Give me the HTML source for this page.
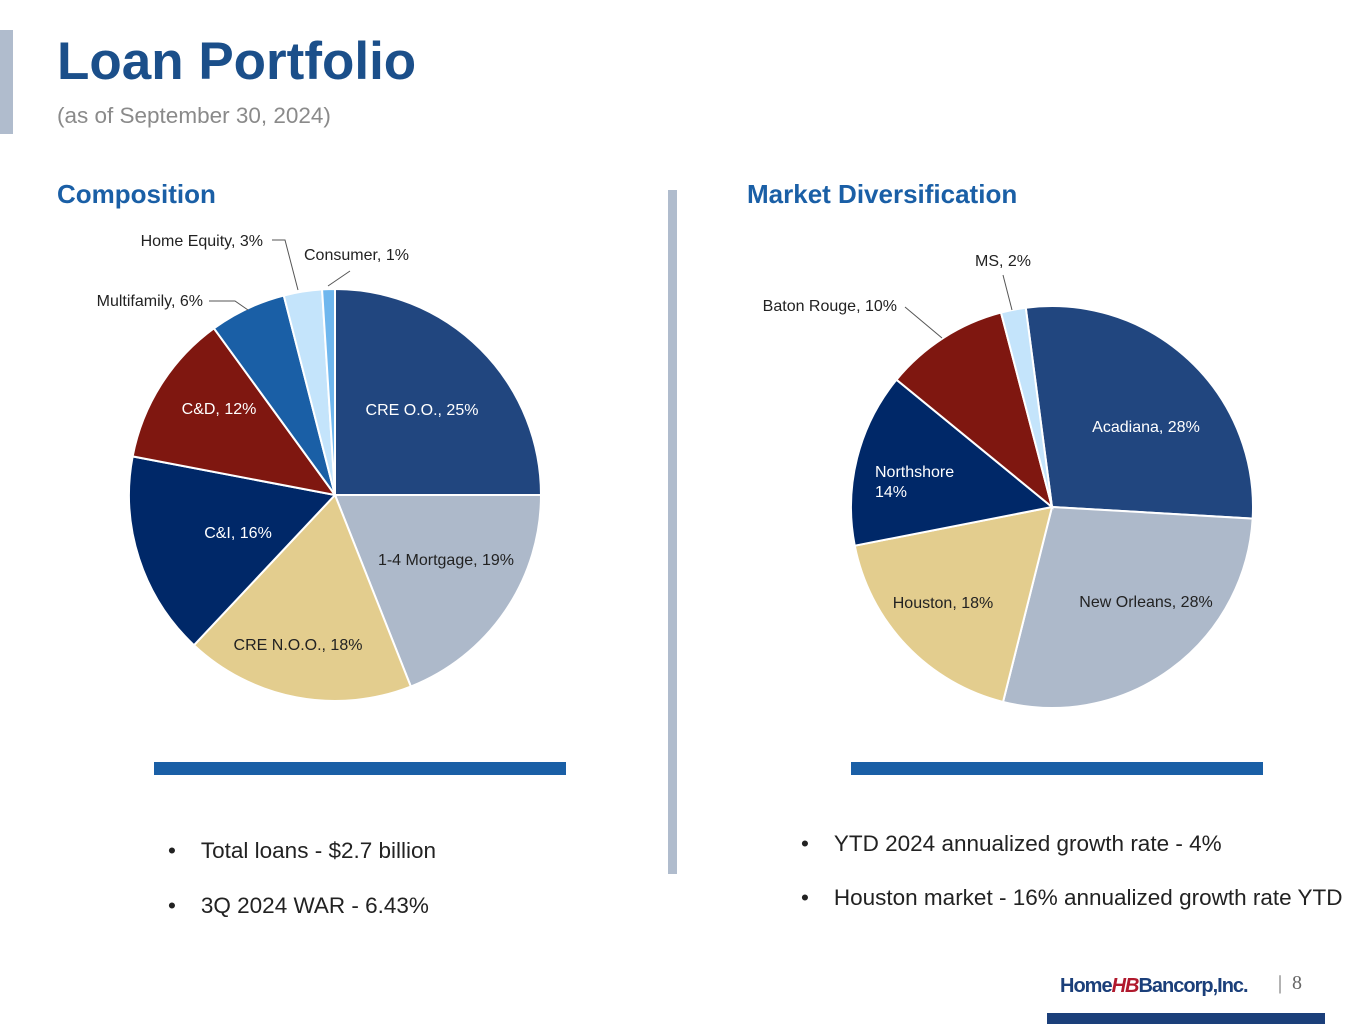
<!DOCTYPE html>
<html><head><meta charset="utf-8">
<style>
body{margin:0;width:1365px;height:1024px;background:#fff;position:relative;overflow:hidden;font-family:"Liberation Sans",Arial,sans-serif}
.abs{position:absolute}
</style></head><body>
<div class="abs" style="left:0;top:30px;width:13px;height:104px;background:#b0bccd"></div>
<div class="abs" style="left:57px;top:31px;font-size:53px;font-weight:bold;color:#1b4f8a">Loan Portfolio</div>
<div class="abs" style="left:57px;top:103px;font-size:22.5px;color:#8a8a8a">(as of September 30, 2024)</div>
<div class="abs" style="left:57px;top:179px;font-size:26px;font-weight:bold;color:#1a5fa6">Composition</div>
<div class="abs" style="left:747px;top:179px;font-size:26px;font-weight:bold;color:#1a5fa6">Market Diversification</div>
<div class="abs" style="left:668px;top:190px;width:9px;height:684px;background:#b0bccd"></div>
<div class="abs" style="left:154px;top:762px;width:412px;height:13px;background:#1a5fa6"></div>
<div class="abs" style="left:851px;top:762px;width:412px;height:13px;background:#1a5fa6"></div>
<div class="abs" style="left:168px;top:838px;font-size:22.5px;color:#222">•&nbsp;&nbsp;&nbsp;&nbsp;Total loans - $2.7 billion</div>
<div class="abs" style="left:168px;top:893px;font-size:22.5px;color:#222">•&nbsp;&nbsp;&nbsp;&nbsp;3Q 2024 WAR - 6.43%</div>
<div class="abs" style="left:801px;top:831px;font-size:22.5px;color:#222">•&nbsp;&nbsp;&nbsp;&nbsp;YTD 2024 annualized growth rate - 4%</div>
<div class="abs" style="left:801px;top:885px;font-size:22.5px;color:#222;white-space:nowrap">•&nbsp;&nbsp;&nbsp;&nbsp;Houston market - 16% annualized growth rate YTD</div>
<div class="abs" style="left:1060px;top:975px;font-size:20px;font-weight:bold;color:#1b3f7a;letter-spacing:-1px">Home<span style="color:#b0192d;font-style:italic">HB</span>Bancorp,Inc.</div>
<div class="abs" style="left:1278px;top:972px;font-size:20px;color:#666;font-family:'Liberation Serif',serif">|&nbsp;&nbsp;8</div>
<div class="abs" style="left:1047px;top:1013px;width:278px;height:11px;background:#1b3f7a"></div>
<svg id="chart" class="abs" style="left:0;top:0" width="1365" height="1024"></svg>
<script>
const compCategories=["CRE O.O.","1-4 Mortgage","CRE N.O.O.","C&I","C&D","Multifamily","Home Equity","Consumer"];
const compValues=[25,19,18,16,12,6,3,1];
const compColors=["#21467f","#adb9ca","#e3cd8e","#002868","#7f1710","#1a5fa6","#c4e4fb","#6fb7ee"];
const mktCategories=["Acadiana","New Orleans","Houston","Northshore","Baton Rouge","MS"];
const mktValues=[28,28,18,14,10,2];
const mktColors=["#21467f","#adb9ca","#e3cd8e","#002868","#7f1710","#c4e4fb"];
const NS="http://www.w3.org/2000/svg";
const svg=document.getElementById('chart');
function pt(cx,cy,r,a){const t=a*Math.PI/180;return [cx+r*Math.sin(t),cy-r*Math.cos(t)];}
function drawPie(name,cx,cy,r,start,vals,cols){
  const tot=vals.reduce((a,b)=>a+b,0);let a=start;
  vals.forEach((v,i)=>{
    const s=a,e=a+v/tot*360;a=e;
    const p1=pt(cx,cy,r,s),p2=pt(cx,cy,r,e);
    const p=document.createElementNS(NS,'path');
    p.setAttribute('d',`M${cx},${cy}L${p1[0]},${p1[1]}A${r},${r} 0 ${e-s>180?1:0} 1 ${p2[0]},${p2[1]}Z`);
    p.setAttribute('fill',cols[i]);p.setAttribute('stroke','#fff');p.setAttribute('stroke-width','2');
    
    
    svg.appendChild(p);
  });
}
drawPie('composition',335,495,206,0,compValues,compColors);
drawPie('market',1052,507,201,-7.5,mktValues,mktColors);
function label(txt,x,y,col,anchor){
  const t=document.createElementNS(NS,'text');
  t.setAttribute('x',x);t.setAttribute('y',y);t.setAttribute('fill',col);
  t.setAttribute('font-size','16');t.setAttribute('font-family','Liberation Sans, Arial, sans-serif');
  t.setAttribute('text-anchor',anchor||'middle');t.textContent=txt;
  
  
  svg.appendChild(t);
}
function line(d){const p=document.createElementNS(NS,'path');p.setAttribute('d',d);p.setAttribute('stroke','#555');p.setAttribute('fill','none');
  
  
  svg.appendChild(p);}
label(compCategories[0]+', '+compValues[0]+'%',422,415,'#fff');
label(compCategories[1]+', '+compValues[1]+'%',446,565,'#222');
label(compCategories[2]+', '+compValues[2]+'%',298,650,'#222');
label(compCategories[3]+', '+compValues[3]+'%',238,538,'#fff');
label(compCategories[4]+', '+compValues[4]+'%',219,414,'#fff');
label(compCategories[5]+', '+compValues[5]+'%',203,306,'#222','end');
label(compCategories[6]+', '+compValues[6]+'%',263,246,'#222','end');
label(compCategories[7]+', '+compValues[7]+'%',304,260,'#222','start');
line('M209,301 L235,301 L248,310');line('M272,240 L285,240 L298,290');line('M350,271 L328,286');
label(mktCategories[0]+', '+mktValues[0]+'%',1146,432,'#fff');
label(mktCategories[1]+', '+mktValues[1]+'%',1146,607,'#222');
label(mktCategories[2]+', '+mktValues[2]+'%',943,608,'#222');
label(mktCategories[3],875,477,'#fff','start');
label(mktValues[3]+'%',875,497,'#fff','start');
label(mktCategories[4]+', '+mktValues[4]+'%',897,311,'#222','end');
label(mktCategories[5]+', '+mktValues[5]+'%',1003,266,'#222');
line('M905,307 L942,338');line('M1003,275 L1012,310');
</script>
</body></html>
